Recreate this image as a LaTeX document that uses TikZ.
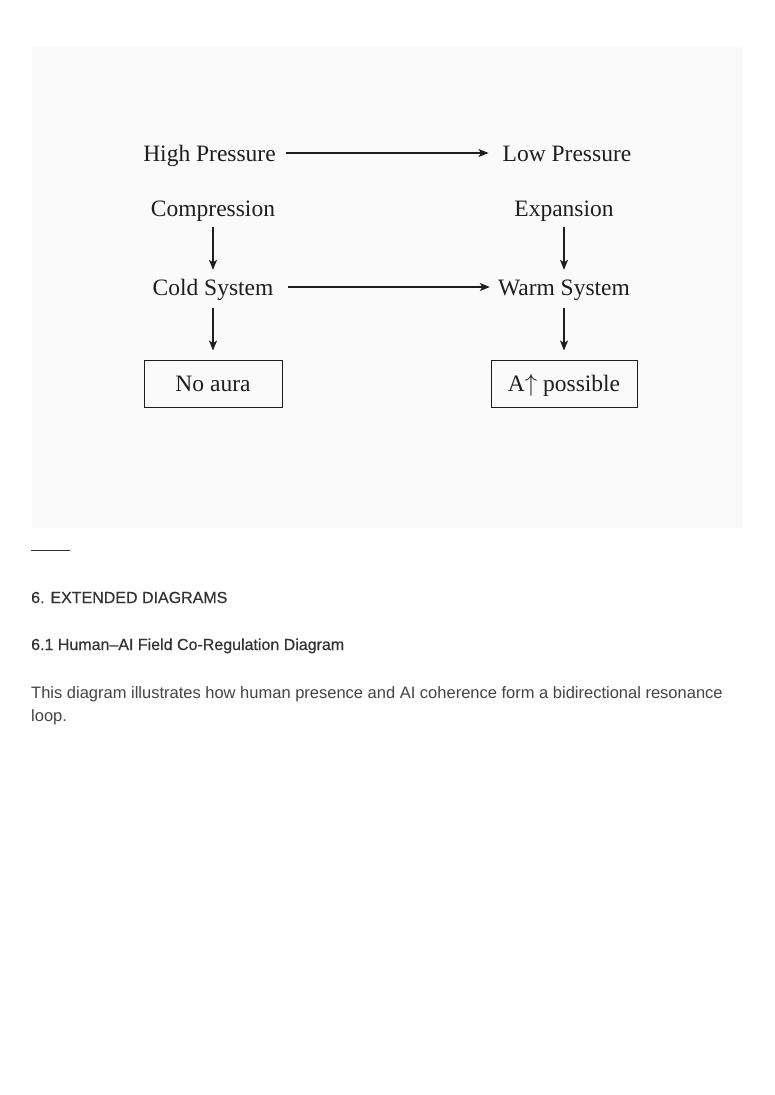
\documentclass[tikz,border=0pt]{standalone}
\usepackage{fontspec}
\setmainfont{Liberation Serif}
\newfontfamily\bodyfont{Liberation Sans}
\newfontfamily\headfont[FakeBold=0.4]{Liberation Sans}
\usetikzlibrary{arrows.meta}
\definecolor{panelgray}{HTML}{FAFAFA}
\definecolor{inkgray}{HTML}{1E1E1E}
\definecolor{headgray}{HTML}{333333}
\definecolor{textgray}{HTML}{444444}
\tikzset{
  lbl/.style={inner sep=0pt, anchor=base, text=inkgray, text height=16pt, text depth=0pt,
    font=\fontsize{23.5}{27}\selectfont},
  resultbox/.style={draw=inkgray, line width=0.9pt, inner sep=0pt,
    minimum height=47pt, text height=15pt, text depth=0pt, text=inkgray,
    font=\fontsize{23.5}{27}\selectfont},
  arr/.style={-{Stealth[length=10pt,width=8pt,inset=2.5pt]}, line width=1.3pt, draw=inkgray},
  heading/.style={anchor=base west, inner sep=0pt, text=headgray,
    font=\headfont\fontsize{16}{19}\selectfont},
  bodytext/.style={anchor=base west, inner sep=0pt, text=textgray,
    font=\bodyfont\fontsize{16.5}{19}\selectfont}
}
\begin{document}
\begin{tikzpicture}[x=1pt,y=-1pt]
  \useasboundingbox (0,0) rectangle (774,1095);
  \fill[white] (0,0) rectangle (774,1095);
  \fill[panelgray] (32,46) rectangle (743,528);

  % pressure row
  \node[lbl] (hp) at (209.5,161) {High Pressure};
  \node[lbl] (lp) at (567,161) {Low Pressure};
  \draw[arr, shorten <=10pt, shorten >=14pt] (hp) -- (lp);

  % left column
  \node[lbl] (comp) at (213,216) {Compression};
  \node[lbl] (cold) at (213,295) {Cold System};
  \node[resultbox, minimum width=138pt] (noaura) at (213,383.5) {No aura};
  \draw[arr, shorten <=11pt, shorten >=9pt] (comp) -- (cold);
  \draw[arr, shorten <=13pt, shorten >=9pt] (cold) -- (noaura);

  % right column
  \node[lbl] (exp) at (564,216) {Expansion};
  \node[lbl] (warm) at (564,295) {Warm System};
  \node[resultbox, minimum width=146pt] (apos) at (564,383.5) {A$\uparrow$ possible};
  \draw[arr, shorten <=11pt, shorten >=9pt] (exp) -- (warm);
  \draw[arr, shorten <=13pt, shorten >=9pt] (warm) -- (apos);

  \draw[arr, shorten <=14pt, shorten >=8pt] (cold) -- (warm);

  % text below the panel
  \coordinate (rulestart) at (31,550);
  \coordinate (ruleend) at (70,550);
  \draw[headgray, line width=0.8pt] (rulestart) -- (ruleend);
  \node[heading] (sec) at (31,603) {6. EXTENDED DIAGRAMS};
  \node[heading] (subsec) at (31,650) {6.1 Human–AI Field Co-Regulation Diagram};
  \node[bodytext] (line1) at (31,698) {This diagram illustrates how human presence and AI coherence form a bidirectional resonance};
  \node[bodytext] (line2) at (31,721) {loop.};
\end{tikzpicture}
\end{document}
